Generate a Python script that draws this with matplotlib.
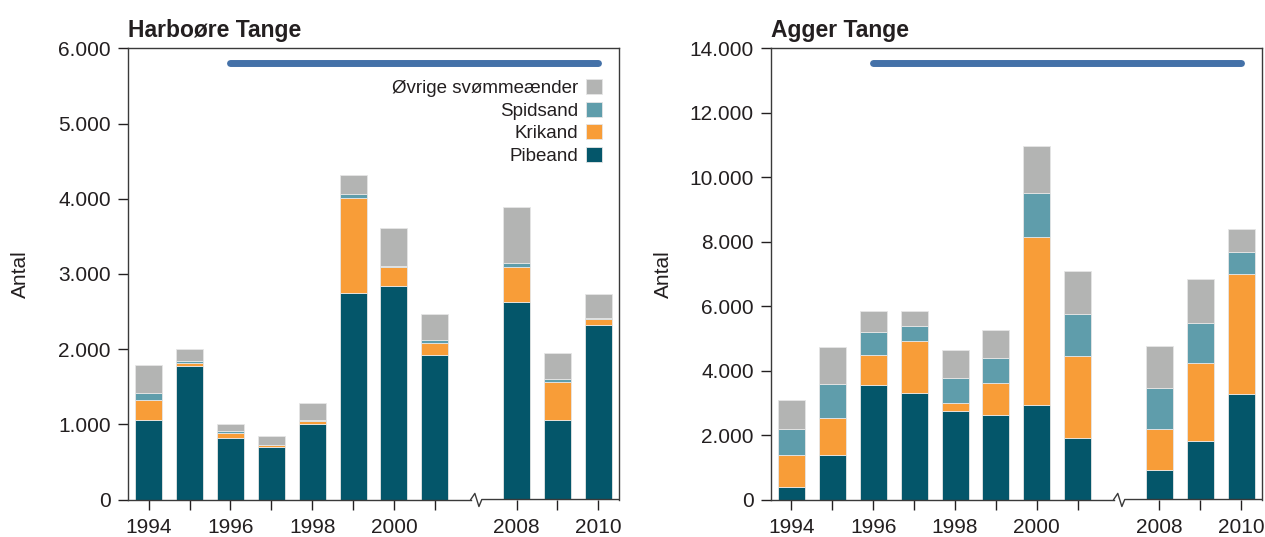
import numpy as np
import matplotlib
matplotlib.use('Agg')
import matplotlib.pyplot as plt
from matplotlib.transforms import blended_transform_factory
from matplotlib.ticker import FuncFormatter

plt.rcParams['font.family'] = ['Liberation Sans', 'DejaVu Sans']

years = ['1994', '1995', '1996', '1997', '1998', '1999', '2000', '2001', '2008', '2009', '2010']
xpos = [0, 1, 2, 3, 4, 5, 6, 7, 9, 10, 11]
species = ['Pibeand', 'Krikand', 'Spidsand', 'Øvrige svømmeænder']
colors = ['#04566a', '#f89d38', '#5f9dab', '#b3b4b3']

# Harboøre Tange, each species' own count
harb_pibe = [1060, 1780, 817, 700, 1000, 2750, 2845, 1920, 2630, 1060, 2320]
harb_krik = [260, 40, 66, 20, 45, 1260, 245, 165, 460, 505, 80]
harb_spids = [100, 25, 32, 5, 15, 50, 20, 35, 55, 40, 10]
harb_ovrige = [365, 160, 88, 120, 225, 250, 495, 350, 740, 340, 320]

# Agger Tange
agger_pibe = [385, 1375, 3550, 3310, 2745, 2610, 2940, 1905, 920, 1810, 3270]
agger_krik = [1005, 1140, 945, 1605, 245, 990, 5215, 2545, 1265, 2415, 3720]
agger_spids = [795, 1065, 710, 480, 790, 800, 1365, 1315, 1285, 1260, 700]
agger_ovrige = [890, 1140, 645, 455, 860, 850, 1460, 1315, 1300, 1360, 705]

panels = [
    ('Harboøre Tange', [harb_pibe, harb_krik, harb_spids, harb_ovrige], 6000, 1000, 5800),
    ('Agger Tange', [agger_pibe, agger_krik, agger_spids, agger_ovrige], 14000, 2000, 13530),
]
period = [2, 11]

fig = plt.figure(figsize=(12.65, 5.37), dpi=100)
ax_rects = [[0.1014, 0.0698, 0.3877, 0.8402], [0.6095, 0.0698, 0.3879, 0.8402]]

dark = '#231f20'
fmt = FuncFormatter(lambda v, p: f'{int(v):,}'.replace(',', '.'))

for rect, (title, series, ymax, ystep, line_y) in zip(ax_rects, panels):
    ax = fig.add_axes(rect)
    bottom = np.zeros(len(xpos))
    for vals, col, name in zip(series, colors, species):
        ax.bar(xpos, vals, width=0.66, bottom=bottom, color=col,
               edgecolor='#e6e6e6', linewidth=0.6, label=name, zorder=2)
        bottom += np.array(vals)

    ax.plot(period, [line_y, line_y], color='#4471a8', lw=5,
            solid_capstyle='round', zorder=3)

    ax.set_xlim(-0.5, 11.5)
    ax.set_ylim(0, ymax)
    ax.set_yticks(np.arange(0, ymax + 1, ystep))
    ax.yaxis.set_major_formatter(fmt)
    ax.set_xticks(xpos)
    # only even years labelled
    ax.set_xticklabels([y if int(y) % 2 == 0 else '' for y in years])

    ax.tick_params(axis='both', direction='out', colors=dark, labelsize=15,
                   width=1.0, length=7.5)
    ax.tick_params(axis='y', pad=5)
    ax.tick_params(axis='x', pad=6)

    for s in ['left', 'top', 'right']:
        ax.spines[s].set_color('#3a3a3a')
        ax.spines[s].set_linewidth(1.0)
    ax.spines['bottom'].set_visible(False)

    # bottom axis with a break between 2001 and 2008
    tr = blended_transform_factory(ax.transData, ax.transAxes)
    ax.plot([-0.5, 7.88], [0, 0], transform=tr, color='#3a3a3a', lw=1.0,
            clip_on=False, zorder=4)
    ax.plot([7.88, 7.98, 8.08, 8.15, 11.5], [0, 0.0135, -0.0155, 0, 0],
            transform=tr, color='#3a3a3a', lw=1.0, clip_on=False, zorder=4)

    ax.set_ylabel('Antal', fontsize=15, color=dark)
    ax.yaxis.set_label_coords(-0.2, 0.5)
    ax.set_title(title, loc='left', fontsize=16.5, fontweight='bold',
                 color=dark, pad=8)

    if title == 'Harboøre Tange':
        h, l = ax.get_legend_handles_labels()
        ax.legend(h[::-1], l[::-1], loc='upper right',
                  bbox_to_anchor=(0.9655, 0.932), frameon=False,
                  markerfirst=False, fontsize=13.5, handlelength=0.85,
                  handleheight=0.85, handletextpad=0.4, labelspacing=0.25,
                  borderpad=0, borderaxespad=0, labelcolor=dark)

fig.savefig('out.png', dpi=100)
